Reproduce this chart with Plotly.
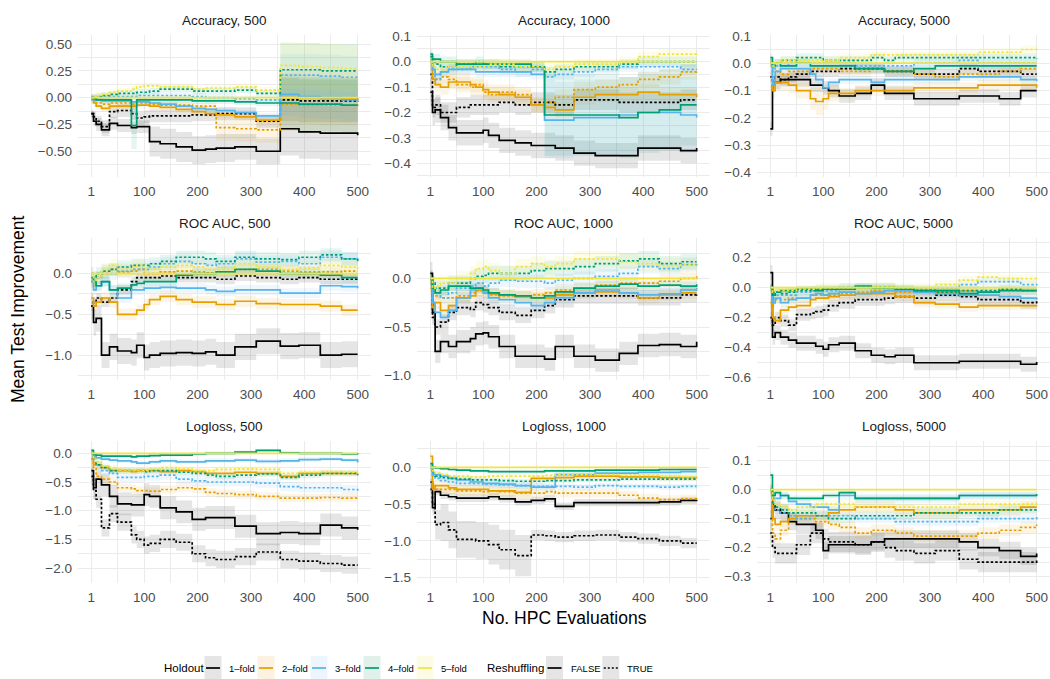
import plotly.graph_objects as go

# ---------------- data ----------------
X = [1, 5, 10, 20, 35, 50, 76, 86, 100, 110, 130, 160, 190, 215, 235, 270, 310, 355, 390, 430, 470, 500]

HOLDOUT = ["1\u2013fold", "2\u2013fold", "3\u2013fold", "4\u2013fold", "5\u2013fold"]
RESHUFFLING = ["FALSE", "TRUE"]
LINE_COLORS = ["#000000", "#E69F00", "#56B4E9", "#009E73", "#F0E442"]
FILL_COLORS = ["rgba(0,0,0,0.10)", "rgba(230,159,0,0.10)", "rgba(86,180,233,0.10)",
               "rgba(0,158,115,0.10)", "rgba(240,228,66,0.12)"]
KEY_COLORS = ["#E5E5E5", "#FCF2DF", "#EDF6FC", "#E0F1EC", "#FCFBE3"]

# 5-fold without reshuffling is the reference (improvement = 0)
BASE_5F = [0.0, 0.0, 0.0, 0.0, 0.0, 0.0, 0.0, 0.0, 0.0, 0.0, 0.0,
           0.0, 0.0, 0.0, 0.0, 0.0, 0.0, 0.0, 0.0, 0.0, 0.0, 0.0]

ACC_500 = {
    "1F": [-0.15, -0.22, -0.25, -0.30, -0.24, -0.26, -0.28, -0.27, -0.27, -0.41, -0.43, -0.46, -0.49, -0.48, -0.47, -0.46, -0.50, -0.29, -0.32, -0.33, -0.33, -0.35],
    "1T": [-0.15, -0.18, -0.22, -0.27, -0.13, -0.12, -0.15, -0.19, -0.18, -0.17, -0.17, -0.17, -0.16, -0.16, -0.15, -0.15, -0.22, -0.02, -0.03, -0.03, -0.03, -0.04],
    "2F": [0.00, -0.05, -0.08, -0.10, -0.08, -0.08, -0.08, -0.07, -0.07, -0.08, -0.09, -0.11, -0.13, -0.15, -0.16, -0.18, -0.21, 0.00, 0.00, -0.01, -0.01, -0.02],
    "2T": [0.00, -0.03, -0.05, -0.06, -0.05, -0.05, -0.06, -0.05, -0.05, -0.06, -0.07, -0.07, -0.08, -0.08, -0.28, -0.29, -0.30, -0.06, -0.07, -0.07, -0.07, -0.08],
    "3F": [-0.02, -0.02, -0.02, -0.03, -0.03, -0.03, -0.04, -0.04, -0.04, -0.05, -0.06, -0.08, -0.10, -0.11, -0.12, -0.14, -0.17, 0.03, 0.01, 0.00, -0.02, -0.04],
    "3T": [0.00, 0.00, 0.00, 0.01, 0.01, 0.01, 0.01, 0.02, 0.02, 0.02, 0.02, 0.02, 0.01, 0.00, 0.00, -0.01, -0.02, 0.21, 0.21, 0.20, 0.19, 0.18],
    "4F": [0.00, -0.01, -0.02, -0.02, -0.02, -0.02, -0.26, -0.02, -0.02, -0.02, -0.02, -0.02, -0.03, -0.03, -0.03, -0.04, -0.05, -0.05, -0.06, -0.06, -0.07, -0.07],
    "4T": [0.00, 0.00, 0.01, 0.02, 0.03, 0.04, 0.04, 0.05, 0.05, 0.06, 0.08, 0.08, 0.06, 0.06, 0.06, 0.07, 0.04, 0.26, 0.26, 0.25, 0.25, 0.25],
    "5F": BASE_5F,
    "5T": [0.00, 0.01, 0.02, 0.03, 0.05, 0.06, 0.08, 0.10, 0.11, 0.11, 0.10, 0.10, 0.08, 0.09, 0.09, 0.10, 0.07, 0.30, 0.29, 0.28, 0.27, 0.27],
}
ACC_500_SD = {
    "1F": [0.03, 0.05, 0.06, 0.06, 0.06, 0.06, 0.06, 0.06, 0.06, 0.14, 0.14, 0.14, 0.13, 0.13, 0.13, 0.12, 0.12, 0.25, 0.25, 0.25, 0.25, 0.25],
    "1T": [0.03, 0.05, 0.05, 0.06, 0.06, 0.06, 0.06, 0.06, 0.06, 0.06, 0.06, 0.06, 0.06, 0.06, 0.06, 0.06, 0.06, 0.20, 0.20, 0.20, 0.20, 0.20],
    "2F": [0.03, 0.03, 0.03, 0.03, 0.03, 0.03, 0.03, 0.03, 0.03, 0.03, 0.03, 0.03, 0.03, 0.03, 0.03, 0.03, 0.03, 0.25, 0.25, 0.25, 0.25, 0.25],
    "2T": [0.03, 0.03, 0.03, 0.03, 0.03, 0.03, 0.03, 0.03, 0.03, 0.03, 0.03, 0.03, 0.03, 0.03, 0.12, 0.12, 0.12, 0.25, 0.25, 0.25, 0.25, 0.25],
    "3F": [0.03, 0.03, 0.03, 0.03, 0.03, 0.03, 0.03, 0.03, 0.03, 0.03, 0.03, 0.03, 0.03, 0.03, 0.03, 0.03, 0.03, 0.20, 0.20, 0.20, 0.20, 0.20],
    "3T": [0.03, 0.03, 0.03, 0.03, 0.03, 0.03, 0.03, 0.03, 0.03, 0.03, 0.03, 0.03, 0.03, 0.03, 0.03, 0.03, 0.03, 0.20, 0.20, 0.20, 0.20, 0.20],
    "4F": [0.03, 0.03, 0.03, 0.03, 0.03, 0.03, 0.22, 0.03, 0.03, 0.03, 0.03, 0.03, 0.03, 0.03, 0.03, 0.03, 0.03, 0.25, 0.25, 0.25, 0.25, 0.25],
    "4T": [0.03, 0.03, 0.03, 0.03, 0.03, 0.03, 0.03, 0.03, 0.03, 0.03, 0.03, 0.03, 0.03, 0.03, 0.03, 0.03, 0.03, 0.25, 0.25, 0.25, 0.25, 0.25],
    "5T": [0.03, 0.03, 0.03, 0.03, 0.03, 0.03, 0.03, 0.03, 0.03, 0.03, 0.03, 0.03, 0.03, 0.03, 0.03, 0.03, 0.03, 0.22, 0.22, 0.22, 0.22, 0.22],
}

ACC_1000 = {
    "1F": [-0.12, -0.20, -0.19, -0.22, -0.26, -0.28, -0.28, -0.28, -0.27, -0.29, -0.31, -0.32, -0.33, -0.33, -0.34, -0.36, -0.37, -0.37, -0.34, -0.34, -0.35, -0.34],
    "1T": [-0.05, -0.18, -0.17, -0.20, -0.20, -0.18, -0.17, -0.17, -0.17, -0.17, -0.16, -0.17, -0.16, -0.16, -0.17, -0.15, -0.15, -0.16, -0.16, -0.16, -0.15, -0.15],
    "2F": [0.00, -0.07, -0.09, -0.10, -0.08, -0.08, -0.09, -0.10, -0.11, -0.12, -0.13, -0.14, -0.17, -0.18, -0.19, -0.14, -0.13, -0.13, -0.12, -0.13, -0.13, -0.14],
    "2T": [0.00, -0.05, -0.07, -0.06, -0.07, -0.09, -0.10, -0.09, -0.12, -0.13, -0.12, -0.13, -0.17, -0.16, -0.14, -0.11, -0.10, -0.09, -0.07, -0.06, -0.04, -0.03],
    "3F": [0.00, -0.03, -0.05, -0.04, -0.03, -0.03, -0.03, -0.04, -0.04, -0.04, -0.04, -0.04, -0.05, -0.23, -0.23, -0.22, -0.22, -0.21, -0.20, -0.20, -0.21, -0.22],
    "3T": [0.00, -0.03, -0.07, -0.04, -0.03, -0.03, -0.02, -0.02, -0.02, -0.02, -0.03, -0.04, -0.03, -0.06, -0.05, -0.04, -0.03, -0.02, -0.02, -0.02, -0.03, -0.03],
    "4F": [0.03, 0.01, 0.01, 0.00, 0.00, -0.01, -0.01, -0.01, -0.01, -0.01, -0.01, -0.01, -0.02, -0.21, -0.21, -0.21, -0.21, -0.22, -0.20, -0.19, -0.17, -0.17],
    "4T": [0.02, 0.00, -0.01, -0.02, -0.02, -0.01, -0.01, 0.00, -0.01, -0.01, -0.02, -0.02, -0.02, -0.04, -0.03, -0.02, -0.02, -0.01, 0.00, 0.00, 0.00, 0.00],
    "5F": BASE_5F,
    "5T": [0.00, -0.02, -0.03, -0.03, -0.02, -0.02, -0.02, -0.02, -0.02, -0.01, -0.01, -0.02, -0.02, -0.03, -0.02, -0.01, -0.01, 0.00, 0.02, 0.03, 0.03, 0.04],
}
ACC_1000_SD = {
    "1F": 0.05, "1T": 0.04, "2F": 0.03, "2T": 0.03,
    "3F": [0.02, 0.02, 0.02, 0.02, 0.02, 0.02, 0.02, 0.02, 0.02, 0.02, 0.02, 0.02, 0.02, 0.15, 0.15, 0.15, 0.15, 0.15, 0.15, 0.15, 0.15, 0.15],
    "3T": 0.02,
    "4F": [0.02, 0.02, 0.02, 0.02, 0.02, 0.02, 0.02, 0.02, 0.02, 0.02, 0.02, 0.02, 0.02, 0.16, 0.16, 0.16, 0.16, 0.16, 0.16, 0.16, 0.16, 0.16],
    "4T": 0.02, "5T": 0.02,
}

ACC_5000 = {
    "1F": [-0.24, -0.08, -0.07, -0.06, -0.06, -0.06, -0.08, -0.08, -0.09, -0.10, -0.12, -0.11, -0.08, -0.11, -0.11, -0.13, -0.13, -0.12, -0.12, -0.13, -0.10, -0.10],
    "1T": [-0.05, -0.07, -0.05, -0.06, -0.05, -0.04, -0.03, -0.03, -0.03, -0.03, -0.02, -0.02, -0.02, -0.03, -0.03, -0.04, -0.04, -0.02, -0.03, -0.03, -0.04, -0.04],
    "2F": [0.00, -0.10, -0.07, -0.07, -0.08, -0.10, -0.13, -0.14, -0.13, -0.11, -0.11, -0.10, -0.10, -0.10, -0.10, -0.09, -0.09, -0.09, -0.08, -0.08, -0.08, -0.09],
    "2T": [0.00, -0.03, -0.03, -0.04, -0.03, -0.03, -0.02, -0.02, -0.02, -0.02, -0.03, -0.03, -0.02, -0.03, -0.03, -0.04, -0.05, -0.04, -0.04, -0.03, -0.02, -0.02],
    "3F": [0.00, -0.08, -0.03, -0.02, -0.02, -0.02, -0.04, -0.06, -0.09, -0.07, -0.06, -0.06, -0.07, -0.06, -0.06, -0.06, -0.06, -0.05, -0.05, -0.05, -0.06, -0.065],
    "3T": [0.00, -0.02, -0.01, -0.01, 0.00, 0.00, 0.00, 0.00, 0.00, 0.00, 0.00, -0.01, -0.01, -0.01, -0.01, 0.00, 0.00, 0.01, 0.00, 0.00, 0.00, 0.00],
    "4F": [0.02, -0.01, 0.00, -0.01, -0.01, 0.00, -0.01, -0.01, -0.01, -0.01, -0.01, -0.02, -0.02, -0.03, -0.03, -0.02, -0.01, -0.01, -0.01, -0.01, -0.01, -0.01],
    "4T": [0.00, 0.00, 0.00, 0.01, 0.01, 0.02, 0.02, 0.02, 0.01, 0.01, 0.01, 0.01, 0.02, 0.01, 0.02, 0.02, 0.02, 0.02, 0.02, 0.02, 0.02, 0.015],
    "5F": BASE_5F,
    "5T": [0.00, -0.01, 0.00, 0.01, 0.01, 0.01, 0.01, 0.01, 0.01, 0.01, 0.02, 0.02, 0.03, 0.03, 0.03, 0.03, 0.03, 0.03, 0.04, 0.04, 0.05, 0.045],
}
ACC_5000_SD = {
    "1F": 0.025, "1T": 0.02,
    "2F": [0.02, 0.03, 0.03, 0.03, 0.03, 0.03, 0.04, 0.05, 0.04, 0.03, 0.02, 0.02, 0.02, 0.02, 0.02, 0.02, 0.02, 0.02, 0.02, 0.02, 0.02, 0.02],
    "2T": 0.015, "3F": 0.015, "3T": 0.015, "4F": 0.015, "4T": 0.015, "5T": 0.015,
}

ROC_500 = {
    "1F": [-0.40, -0.60, -0.55, -1.00, -0.90, -0.95, -0.97, -0.88, -1.03, -1.00, -0.98, -0.97, -0.98, -0.96, -1.00, -0.90, -0.83, -0.89, -0.88, -1.00, -0.99, -0.99],
    "1T": [-0.40, -0.35, -0.30, -0.35, -0.30, -0.20, -0.10, -0.05, -0.05, -0.05, -0.03, -0.05, -0.05, -0.05, -0.07, -0.03, -0.05, -0.07, -0.05, -0.07, -0.07, -0.08],
    "2F": [-0.30, -0.40, -0.35, -0.30, -0.35, -0.50, -0.50, -0.45, -0.38, -0.32, -0.28, -0.32, -0.35, -0.35, -0.38, -0.34, -0.37, -0.38, -0.38, -0.40, -0.45, -0.45],
    "2T": [-0.10, -0.15, -0.05, 0.00, 0.05, 0.02, 0.03, 0.05, 0.00, 0.00, 0.02, 0.03, 0.02, 0.01, 0.02, 0.05, 0.05, 0.03, 0.02, 0.02, 0.03, 0.03],
    "3F": [-0.10, -0.20, -0.15, -0.10, -0.20, -0.30, -0.20, -0.20, -0.18, -0.18, -0.17, -0.18, -0.18, -0.20, -0.22, -0.20, -0.20, -0.24, -0.24, -0.15, -0.16, -0.18],
    "3T": [-0.10, -0.10, -0.05, 0.00, 0.00, 0.03, 0.05, 0.05, 0.05, 0.08, 0.12, 0.15, 0.12, 0.10, 0.12, 0.18, 0.14, 0.15, 0.12, 0.20, 0.18, 0.15],
    "4F": [-0.05, -0.10, -0.15, -0.10, -0.20, -0.18, -0.14, -0.12, -0.10, -0.10, -0.10, -0.02, 0.00, 0.00, 0.02, 0.05, 0.03, 0.00, 0.00, -0.02, -0.05, -0.05],
    "4T": [0.00, -0.05, 0.00, 0.03, 0.05, 0.08, 0.10, 0.10, 0.10, 0.12, 0.15, 0.20, 0.20, 0.18, 0.15, 0.20, 0.18, 0.17, 0.20, 0.23, 0.18, 0.15],
    "5F": BASE_5F,
    "5T": [0.00, -0.10, -0.05, 0.05, 0.10, 0.05, 0.08, 0.10, 0.05, 0.05, 0.08, 0.10, 0.08, 0.05, 0.05, 0.12, 0.08, 0.05, 0.07, 0.10, 0.08, 0.06],
}
ROC_500_SD = {"1F": 0.16, "1T": 0.06, "2F": 0.07, "2T": 0.07, "3F": 0.06,
              "3T": 0.08, "4F": 0.06, "4T": 0.08, "5T": 0.08}

ROC_1000 = {
    "1F": [0.05, -0.35, -0.75, -0.65, -0.70, -0.65, -0.62, -0.57, -0.56, -0.60, -0.70, -0.80, -0.80, -0.83, -0.70, -0.80, -0.84, -0.77, -0.69, -0.68, -0.70, -0.65],
    "1T": [0.00, -0.40, -0.50, -0.45, -0.35, -0.30, -0.32, -0.25, -0.27, -0.30, -0.35, -0.38, -0.33, -0.28, -0.22, -0.18, -0.18, -0.18, -0.20, -0.20, -0.17, -0.16],
    "2F": [-0.10, -0.30, -0.25, -0.33, -0.28, -0.20, -0.18, -0.12, -0.13, -0.16, -0.17, -0.19, -0.20, -0.20, -0.17, -0.15, -0.14, -0.15, -0.20, -0.17, -0.15, -0.15],
    "2T": [0.00, -0.15, -0.18, -0.20, -0.20, -0.18, -0.15, -0.13, -0.15, -0.17, -0.18, -0.18, -0.17, -0.15, -0.12, -0.10, -0.07, -0.05, -0.05, -0.03, 0.00, 0.02],
    "3F": [0.00, -0.25, -0.35, -0.40, -0.33, -0.20, -0.12, -0.10, -0.15, -0.20, -0.22, -0.25, -0.28, -0.25, -0.20, -0.15, -0.12, -0.15, -0.17, -0.16, -0.12, -0.10],
    "3T": [0.00, -0.10, -0.15, -0.20, -0.15, -0.10, -0.08, -0.05, -0.08, -0.05, -0.02, -0.03, -0.03, -0.05, -0.02, 0.00, 0.02, 0.05, 0.12, 0.10, 0.14, 0.15],
    "4F": [0.00, -0.10, -0.15, -0.12, -0.08, -0.08, -0.10, -0.10, -0.12, -0.15, -0.17, -0.18, -0.20, -0.18, -0.14, -0.10, -0.08, -0.06, -0.08, -0.07, -0.08, -0.06],
    "4T": [0.00, -0.05, -0.10, -0.10, -0.05, -0.05, 0.00, 0.02, 0.03, 0.05, 0.05, 0.05, 0.08, 0.10, 0.10, 0.12, 0.15, 0.18, 0.20, 0.15, 0.17, 0.17],
    "5F": BASE_5F,
    "5T": [0.00, -0.10, -0.08, -0.05, -0.05, 0.00, 0.05, 0.10, 0.12, 0.08, 0.05, 0.12, 0.15, 0.12, 0.15, 0.20, 0.20, 0.17, 0.15, 0.13, 0.14, 0.15],
}
ROC_1000_SD = {"1F": 0.12, "1T": 0.08, "2F": 0.06, "2T": 0.06, "3F": 0.06,
               "3T": 0.07, "4F": 0.05, "4T": 0.08, "5T": 0.08}

ROC_5000 = {
    "1F": [0.10, -0.33, -0.30, -0.33, -0.35, -0.37, -0.37, -0.39, -0.41, -0.38, -0.37, -0.42, -0.45, -0.46, -0.45, -0.50, -0.50, -0.49, -0.49, -0.49, -0.51, -0.495],
    "1T": [-0.20, -0.25, -0.20, -0.22, -0.25, -0.18, -0.17, -0.16, -0.15, -0.12, -0.10, -0.08, -0.08, -0.07, -0.06, -0.07, -0.05, -0.06, -0.08, -0.08, -0.10, -0.09],
    "2F": [-0.10, -0.20, -0.22, -0.15, -0.13, -0.12, -0.08, -0.07, -0.07, -0.06, -0.05, -0.04, -0.04, -0.04, -0.06, -0.10, -0.11, -0.13, -0.12, -0.12, -0.12, -0.115],
    "2T": [0.00, -0.10, -0.08, -0.08, -0.07, -0.07, -0.05, -0.05, -0.05, -0.05, -0.04, -0.03, -0.02, -0.02, -0.03, -0.03, -0.03, -0.02, -0.03, -0.02, -0.02, -0.02],
    "3F": [0.00, -0.10, -0.07, -0.10, -0.08, -0.07, -0.05, -0.04, -0.05, -0.04, -0.03, -0.04, -0.03, -0.02, -0.02, -0.03, -0.04, -0.05, -0.05, -0.06, -0.07, -0.08],
    "3T": [0.00, -0.05, -0.05, -0.05, -0.05, -0.03, -0.02, -0.02, -0.02, -0.02, -0.01, 0.00, 0.00, 0.00, -0.01, -0.01, 0.00, 0.02, 0.04, 0.04, 0.02, 0.015],
    "4F": [0.00, -0.05, -0.03, -0.02, -0.02, -0.01, -0.01, -0.02, -0.01, -0.01, -0.01, 0.01, 0.00, 0.00, -0.01, -0.02, -0.02, -0.04, -0.03, -0.02, -0.02, -0.02],
    "4T": [0.00, -0.05, -0.03, -0.04, -0.03, -0.02, -0.02, -0.01, -0.01, -0.01, 0.00, 0.00, 0.00, 0.00, -0.01, -0.02, -0.03, -0.02, -0.02, -0.01, -0.02, -0.02],
    "5F": BASE_5F,
    "5T": [0.00, -0.03, -0.02, -0.02, -0.02, -0.01, -0.01, 0.00, 0.00, 0.00, 0.00, 0.00, 0.01, 0.01, 0.00, 0.00, 0.02, 0.05, 0.07, 0.06, 0.06, 0.055],
}
ROC_5000_SD = {"1F": 0.05, "1T": 0.04, "2F": 0.03, "2T": 0.03, "3F": 0.03,
               "3T": 0.03, "4F": 0.02, "4T": 0.03, "5T": 0.03}

LOG_500 = {
    "1F": [-0.30, -0.60, -0.45, -0.55, -0.75, -0.88, -0.90, -0.90, -0.72, -0.75, -0.95, -1.02, -1.15, -1.12, -1.12, -1.27, -1.40, -1.38, -1.40, -1.25, -1.30, -1.33],
    "1T": [-0.40, -0.65, -0.80, -1.30, -1.05, -1.20, -1.42, -1.50, -1.60, -1.57, -1.50, -1.55, -1.75, -1.82, -1.85, -1.80, -1.72, -1.85, -1.88, -1.92, -1.95, -1.95],
    "2F": [-0.10, -0.20, -0.20, -0.25, -0.30, -0.30, -0.32, -0.30, -0.30, -0.30, -0.32, -0.30, -0.32, -0.35, -0.35, -0.33, -0.35, -0.40, -0.35, -0.35, -0.35, -0.35],
    "2T": [-0.10, -0.25, -0.40, -0.45, -0.50, -0.60, -0.62, -0.65, -0.65, -0.66, -0.63, -0.60, -0.62, -0.68, -0.70, -0.72, -0.75, -0.78, -0.78, -0.77, -0.78, -0.80],
    "3F": [0.00, -0.05, -0.08, -0.10, -0.12, -0.13, -0.15, -0.17, -0.17, -0.15, -0.13, -0.15, -0.15, -0.13, -0.13, -0.12, -0.14, -0.13, -0.11, -0.10, -0.12, -0.16],
    "3T": [0.00, -0.10, -0.20, -0.30, -0.35, -0.42, -0.42, -0.42, -0.40, -0.40, -0.38, -0.45, -0.48, -0.50, -0.50, -0.50, -0.52, -0.58, -0.60, -0.60, -0.63, -0.65],
    "4F": [0.05, -0.02, -0.03, -0.05, -0.05, -0.05, -0.06, -0.05, -0.05, -0.04, -0.03, -0.03, -0.01, 0.00, 0.00, 0.02, 0.05, 0.01, 0.00, 0.00, -0.01, -0.02],
    "4T": [0.00, -0.10, -0.20, -0.25, -0.30, -0.30, -0.30, -0.30, -0.32, -0.30, -0.30, -0.33, -0.35, -0.38, -0.40, -0.38, -0.36, -0.42, -0.38, -0.35, -0.35, -0.38],
    "5F": BASE_5F,
    "5T": [0.00, -0.10, -0.15, -0.22, -0.25, -0.30, -0.30, -0.30, -0.30, -0.28, -0.25, -0.27, -0.30, -0.30, -0.28, -0.27, -0.28, -0.35, -0.33, -0.32, -0.33, -0.35],
}
LOG_500_SD = {"1F": 0.2, "1T": 0.15, "2F": 0.05, "2T": 0.07, "3F": 0.04,
              "3T": 0.08, "4F": 0.03, "4T": 0.05, "5T": 0.05}

LOG_1000 = {
    "1F": [-0.20, -0.55, -0.33, -0.38, -0.40, -0.42, -0.42, -0.42, -0.42, -0.40, -0.43, -0.47, -0.45, -0.43, -0.53, -0.48, -0.48, -0.48, -0.48, -0.47, -0.45, -0.44],
    "1T": [-0.30, -0.50, -0.78, -0.75, -0.85, -0.98, -0.98, -1.00, -1.00, -1.05, -1.12, -1.20, -0.92, -0.93, -0.95, -0.93, -0.92, -0.95, -0.97, -1.00, -1.03, -1.03],
    "2F": [0.15, -0.30, -0.25, -0.25, -0.28, -0.30, -0.30, -0.30, -0.30, -0.32, -0.32, -0.34, -0.15, -0.15, -0.14, -0.12, -0.12, -0.13, -0.13, -0.14, -0.14, -0.15],
    "2T": [0.00, -0.25, -0.30, -0.30, -0.30, -0.32, -0.32, -0.32, -0.33, -0.32, -0.33, -0.35, -0.35, -0.33, -0.35, -0.35, -0.35, -0.38, -0.42, -0.44, -0.43, -0.45],
    "3F": [0.00, -0.10, -0.10, -0.12, -0.15, -0.17, -0.20, -0.20, -0.22, -0.22, -0.23, -0.25, -0.27, -0.27, -0.10, -0.10, -0.08, -0.08, -0.07, -0.07, -0.06, -0.06],
    "3T": [0.00, -0.10, -0.15, -0.18, -0.20, -0.22, -0.22, -0.22, -0.23, -0.23, -0.24, -0.25, -0.26, -0.26, -0.26, -0.27, -0.25, -0.26, -0.26, -0.27, -0.26, -0.26],
    "4F": [0.05, 0.00, -0.01, -0.02, -0.03, -0.04, -0.05, -0.05, -0.05, -0.06, -0.06, -0.06, -0.06, -0.05, -0.05, -0.05, -0.04, -0.04, -0.04, -0.03, -0.03, -0.03],
    "4T": [0.00, -0.08, -0.12, -0.14, -0.15, -0.16, -0.17, -0.17, -0.17, -0.17, -0.18, -0.19, -0.19, -0.18, -0.18, -0.17, -0.17, -0.16, -0.16, -0.16, -0.16, -0.16],
    "5F": BASE_5F,
    "5T": [0.00, -0.05, -0.08, -0.10, -0.12, -0.12, -0.13, -0.13, -0.13, -0.12, -0.12, -0.12, -0.12, -0.11, -0.10, -0.10, -0.10, -0.11, -0.11, -0.12, -0.13, -0.13],
}
LOG_1000_SD = {
    "1F": 0.05,
    "1T": [0.05, 0.15, 0.20, 0.25, 0.25, 0.25, 0.25, 0.25, 0.25, 0.27, 0.27, 0.28, 0.07, 0.07, 0.07, 0.07, 0.07, 0.07, 0.07, 0.07, 0.07, 0.07],
    "2F": [0.05, 0.08, 0.08, 0.08, 0.08, 0.08, 0.08, 0.08, 0.08, 0.08, 0.08, 0.08, 0.04, 0.04, 0.04, 0.04, 0.04, 0.04, 0.04, 0.04, 0.04, 0.04],
    "2T": 0.06, "3F": 0.05, "3T": 0.04, "4F": 0.02, "4T": 0.03, "5T": 0.03,
}

LOG_5000 = {
    "1F": [-0.10, -0.05, -0.07, -0.08, -0.11, -0.12, -0.12, -0.14, -0.21, -0.19, -0.19, -0.19, -0.18, -0.17, -0.17, -0.17, -0.17, -0.18, -0.20, -0.21, -0.23, -0.22],
    "1T": [-0.15, -0.20, -0.22, -0.22, -0.22, -0.19, -0.15, -0.15, -0.17, -0.18, -0.18, -0.19, -0.18, -0.20, -0.21, -0.22, -0.21, -0.24, -0.25, -0.25, -0.25, -0.24],
    "2F": [0.00, -0.10, -0.12, -0.11, -0.10, -0.09, -0.09, -0.09, -0.09, -0.08, -0.07, -0.06, -0.06, -0.06, -0.07, -0.08, -0.08, -0.07, -0.07, -0.07, -0.06, -0.06],
    "2T": [0.00, -0.15, -0.17, -0.14, -0.10, -0.10, -0.10, -0.11, -0.11, -0.12, -0.13, -0.15, -0.14, -0.14, -0.15, -0.16, -0.16, -0.16, -0.15, -0.14, -0.13, -0.12],
    "3F": [0.00, -0.03, -0.03, -0.02, -0.04, -0.05, -0.06, -0.06, -0.06, -0.07, -0.02, -0.03, -0.03, -0.03, -0.03, -0.03, -0.03, -0.02, -0.02, -0.02, -0.02, -0.02],
    "3T": [0.00, -0.05, -0.07, -0.08, -0.09, -0.10, -0.09, -0.09, -0.09, -0.09, -0.09, -0.10, -0.10, -0.10, -0.11, -0.11, -0.11, -0.11, -0.10, -0.10, -0.10, -0.09],
    "4F": [0.05, -0.02, -0.01, -0.02, -0.03, -0.03, -0.03, -0.03, -0.02, -0.02, -0.01, -0.03, -0.03, -0.03, -0.03, -0.03, -0.03, -0.02, -0.02, -0.02, -0.02, -0.015],
    "4T": [0.00, -0.05, -0.06, -0.07, -0.08, -0.08, -0.08, -0.09, -0.09, -0.10, -0.10, -0.09, -0.09, -0.09, -0.09, -0.08, -0.08, -0.08, -0.08, -0.07, -0.07, -0.07],
    "5F": BASE_5F,
    "5T": [0.00, -0.03, -0.05, -0.06, -0.07, -0.06, -0.06, -0.05, -0.05, -0.05, -0.05, -0.06, -0.06, -0.06, -0.06, -0.06, -0.06, -0.05, -0.05, -0.05, -0.05, -0.04],
}
LOG_5000_SD = {"1F": 0.03, "1T": 0.035, "2F": 0.02, "2T": 0.02, "3F": 0.015,
               "3T": 0.015, "4F": 0.01, "4T": 0.015, "5T": 0.015}

PANEL_TITLES = ["Accuracy, 500", "Accuracy, 1000", "Accuracy, 5000",
                "ROC AUC, 500", "ROC AUC, 1000", "ROC AUC, 5000",
                "Logloss, 500", "Logloss, 1000", "Logloss, 5000"]
PANEL_VALUES = [ACC_500, ACC_1000, ACC_5000, ROC_500, ROC_1000, ROC_5000, LOG_500, LOG_1000, LOG_5000]
PANEL_SDS = [ACC_500_SD, ACC_1000_SD, ACC_5000_SD, ROC_500_SD, ROC_1000_SD, ROC_5000_SD,
             LOG_500_SD, LOG_1000_SD, LOG_5000_SD]
Y_RANGES = [[-0.74, 0.584], [-0.454, 0.105], [-0.416, 0.103],
            [-1.306, 0.436], [-1.044, 0.414], [-0.615, 0.331],
            [-2.26, 0.215], [-1.572, 0.357], [-0.322, 0.168]]
Y_TICKS = [[0.5, 0.25, 0.0, -0.25, -0.5], [0.1, 0.0, -0.1, -0.2, -0.3, -0.4], [0.1, 0.0, -0.1, -0.2, -0.3, -0.4],
           [0.0, -0.5, -1.0], [0.0, -0.5, -1.0], [0.2, 0.0, -0.2, -0.4, -0.6],
           [0.0, -0.5, -1.0, -1.5, -2.0], [0.0, -0.5, -1.0, -1.5], [0.1, 0.0, -0.1, -0.2, -0.3]]
Y_TICK_DECIMALS = [2, 1, 1, 1, 1, 1, 1, 1, 1]
X_TICKS = [1, 100, 200, 300, 400, 500]
X_MINOR = [50.5, 150, 250, 350, 450]

# ---------------- layout geometry (pixels of the 1050x679 canvas) ----------------
W, H = 1050, 679
COL_PX = [(78, 371), (417, 710), (757, 1050)]
ROW_PX = [(35, 177), (238, 380), (441, 583)]
FONT = "Liberation Sans, Arial, Helvetica, sans-serif"
GRID = "#EBEBEB"


def fmt(v, d):
    s = f"{abs(v):.{d}f}"
    return ("\u2212" + s) if v < 0 else s


def minor_vals(ticks, rng):
    step = abs(ticks[0] - ticks[1])
    lo, hi = min(ticks) - step, max(ticks) + step
    vals = []
    v = lo + step / 2
    while v < hi:
        if rng[0] <= v <= rng[1]:
            vals.append(round(v, 6))
        v += step
    return vals


fig = go.Figure()
layout = {}
annotations = []

for p in range(9):
    r, c = divmod(p, 3)
    n = p + 1
    xa = "x" if n == 1 else f"x{n}"
    ya = "y" if n == 1 else f"y{n}"
    vals, sds = PANEL_VALUES[p], PANEL_SDS[p]

    # ribbons first
    for h in range(5):
        for s, flag in enumerate("FT"):
            key = f"{h + 1}{flag}"
            if key not in sds:
                continue
            y = vals[key]
            sd = sds[key]
            sdl = sd if isinstance(sd, list) else [sd] * len(X)
            hi = [a + b for a, b in zip(y, sdl)]
            lo = [a - b for a, b in zip(y, sdl)]
            fig.add_trace(go.Scatter(x=X, y=hi, xaxis=xa, yaxis=ya, mode="lines",
                                     line=dict(width=0, shape="hv"), hoverinfo="skip",
                                     showlegend=False))
            fig.add_trace(go.Scatter(x=X, y=lo, xaxis=xa, yaxis=ya, mode="lines",
                                     line=dict(width=0, shape="hv"), fill="tonexty",
                                     fillcolor=FILL_COLORS[h], hoverinfo="skip",
                                     showlegend=False))
    # lines
    for h in range(5):
        for s, flag in enumerate("FT"):
            key = f"{h + 1}{flag}"
            fig.add_trace(go.Scatter(
                x=X, y=vals[key], xaxis=xa, yaxis=ya, mode="lines",
                name=f"{HOLDOUT[h]} / {RESHUFFLING[s]}",
                line=dict(color=LINE_COLORS[h], width=1.7, shape="hv",
                          dash="solid" if flag == "F" else "2.5px,2px"),
                showlegend=False))

    x0, x1 = COL_PX[c]
    y0, y1 = ROW_PX[r]
    layout["xaxis" if n == 1 else f"xaxis{n}"] = dict(
        domain=[x0 / W, x1 / W], anchor=ya, range=[-24, 525], automargin=False,
        tickmode="array", tickvals=X_TICKS, ticktext=[str(t) for t in X_TICKS],
        showgrid=True, gridcolor=GRID, gridwidth=1.1, zeroline=False, showline=False,
        ticks="", tickfont=dict(family=FONT, size=13.5, color="#4D4D4D"),
        ticklabelstandoff=4,
        minor=dict(tickmode="array", tickvals=X_MINOR, showgrid=True, gridcolor=GRID,
                   gridwidth=0.55, ticks=""),
    )
    yr = Y_RANGES[p]
    layout["yaxis" if n == 1 else f"yaxis{n}"] = dict(
        domain=[1 - y1 / H, 1 - y0 / H], anchor=xa, range=yr, automargin=False,
        tickmode="array", tickvals=Y_TICKS[p],
        ticktext=[fmt(v, Y_TICK_DECIMALS[p]) for v in Y_TICKS[p]],
        showgrid=True, gridcolor=GRID, gridwidth=1.1, zeroline=False, showline=False,
        ticks="", tickfont=dict(family=FONT, size=13.5, color="#4D4D4D"),
        ticklabelstandoff=5,
        minor=dict(tickmode="array", tickvals=minor_vals(Y_TICKS[p], yr), showgrid=True,
                   gridcolor=GRID, gridwidth=0.55, ticks=""),
    )
    annotations.append(dict(
        text=PANEL_TITLES[p], xref="paper", yref="paper",
        x=(x0 + x1) / 2 / W, y=1 - (y0 - 14.5) / H, xanchor="center", yanchor="middle",
        showarrow=False, font=dict(family=FONT, size=13.5, color="#1A1A1A")))

# axis titles
annotations.append(dict(text="No. HPC Evaluations", xref="paper", yref="paper",
                        x=(78 + 1050) / 2 / W, y=1 - 618 / H, xanchor="center", yanchor="middle",
                        showarrow=False, font=dict(family=FONT, size=17.5, color="#000000")))
annotations.append(dict(text="Mean Test Improvement", xref="paper", yref="paper",
                        x=18 / W, y=1 - 309 / H, xanchor="center", yanchor="middle",
                        textangle=-90, showarrow=False,
                        font=dict(family=FONT, size=17.5, color="#000000")))

# legend (drawn like ggplot's key boxes)
shapes = []
LEG_Y = 668
KEY_W, KEY_TOP, KEY_BOT = 17, 656, 679
annotations.append(dict(text="Holdout", xref="paper", yref="paper", x=161.5 / W, y=1 - LEG_Y / H,
                        xanchor="left", yanchor="middle", showarrow=False,
                        font=dict(family=FONT, size=11.5, color="#000000")))
for h in range(5):
    kx = 204.5 + h * 53.0
    shapes.append(dict(type="rect", xref="paper", yref="paper", x0=kx / W, x1=(kx + KEY_W) / W,
                       y0=1 - KEY_BOT / H, y1=1 - KEY_TOP / H,
                       fillcolor=KEY_COLORS[h], line=dict(width=0), layer="below"))
    shapes.append(dict(type="line", xref="paper", yref="paper", x0=(kx + 1.5) / W, x1=(kx + KEY_W - 1.5) / W,
                       y0=1 - LEG_Y / H, y1=1 - LEG_Y / H,
                       line=dict(color=LINE_COLORS[h], width=1.7), layer="above"))
    annotations.append(dict(text=HOLDOUT[h], xref="paper", yref="paper", x=(kx + 22.5) / W,
                            y=1 - LEG_Y / H, xanchor="left", yanchor="middle", showarrow=False,
                            font=dict(family=FONT, size=9.5, color="#000000")))
annotations.append(dict(text="Reshuffling", xref="paper", yref="paper", x=485 / W, y=1 - LEG_Y / H,
                        xanchor="left", yanchor="middle", showarrow=False,
                        font=dict(family=FONT, size=11.5, color="#000000")))
for s in range(2):
    kx = 546 + s * 56.3
    shapes.append(dict(type="rect", xref="paper", yref="paper", x0=kx / W, x1=(kx + KEY_W) / W,
                       y0=1 - KEY_BOT / H, y1=1 - KEY_TOP / H,
                       fillcolor=KEY_COLORS[0], line=dict(width=0), layer="below"))
    shapes.append(dict(type="line", xref="paper", yref="paper", x0=(kx + 1.5) / W, x1=(kx + KEY_W - 1.5) / W,
                       y0=1 - LEG_Y / H, y1=1 - LEG_Y / H,
                       line=dict(color="#000000", width=1.7, dash="solid" if s == 0 else "2px,2px"),
                       layer="above"))
    annotations.append(dict(text=RESHUFFLING[s], xref="paper", yref="paper", x=(kx + 22.5) / W,
                            y=1 - LEG_Y / H, xanchor="left", yanchor="middle", showarrow=False,
                            font=dict(family=FONT, size=9.5, color="#000000")))

fig.update_layout(
    width=W, height=H, margin=dict(l=0, r=0, t=0, b=0, pad=0),
    paper_bgcolor="white", plot_bgcolor="white", showlegend=False,
    annotations=annotations, shapes=shapes, font=dict(family=FONT),
    **layout,
)
fig.write_html("out.html")
